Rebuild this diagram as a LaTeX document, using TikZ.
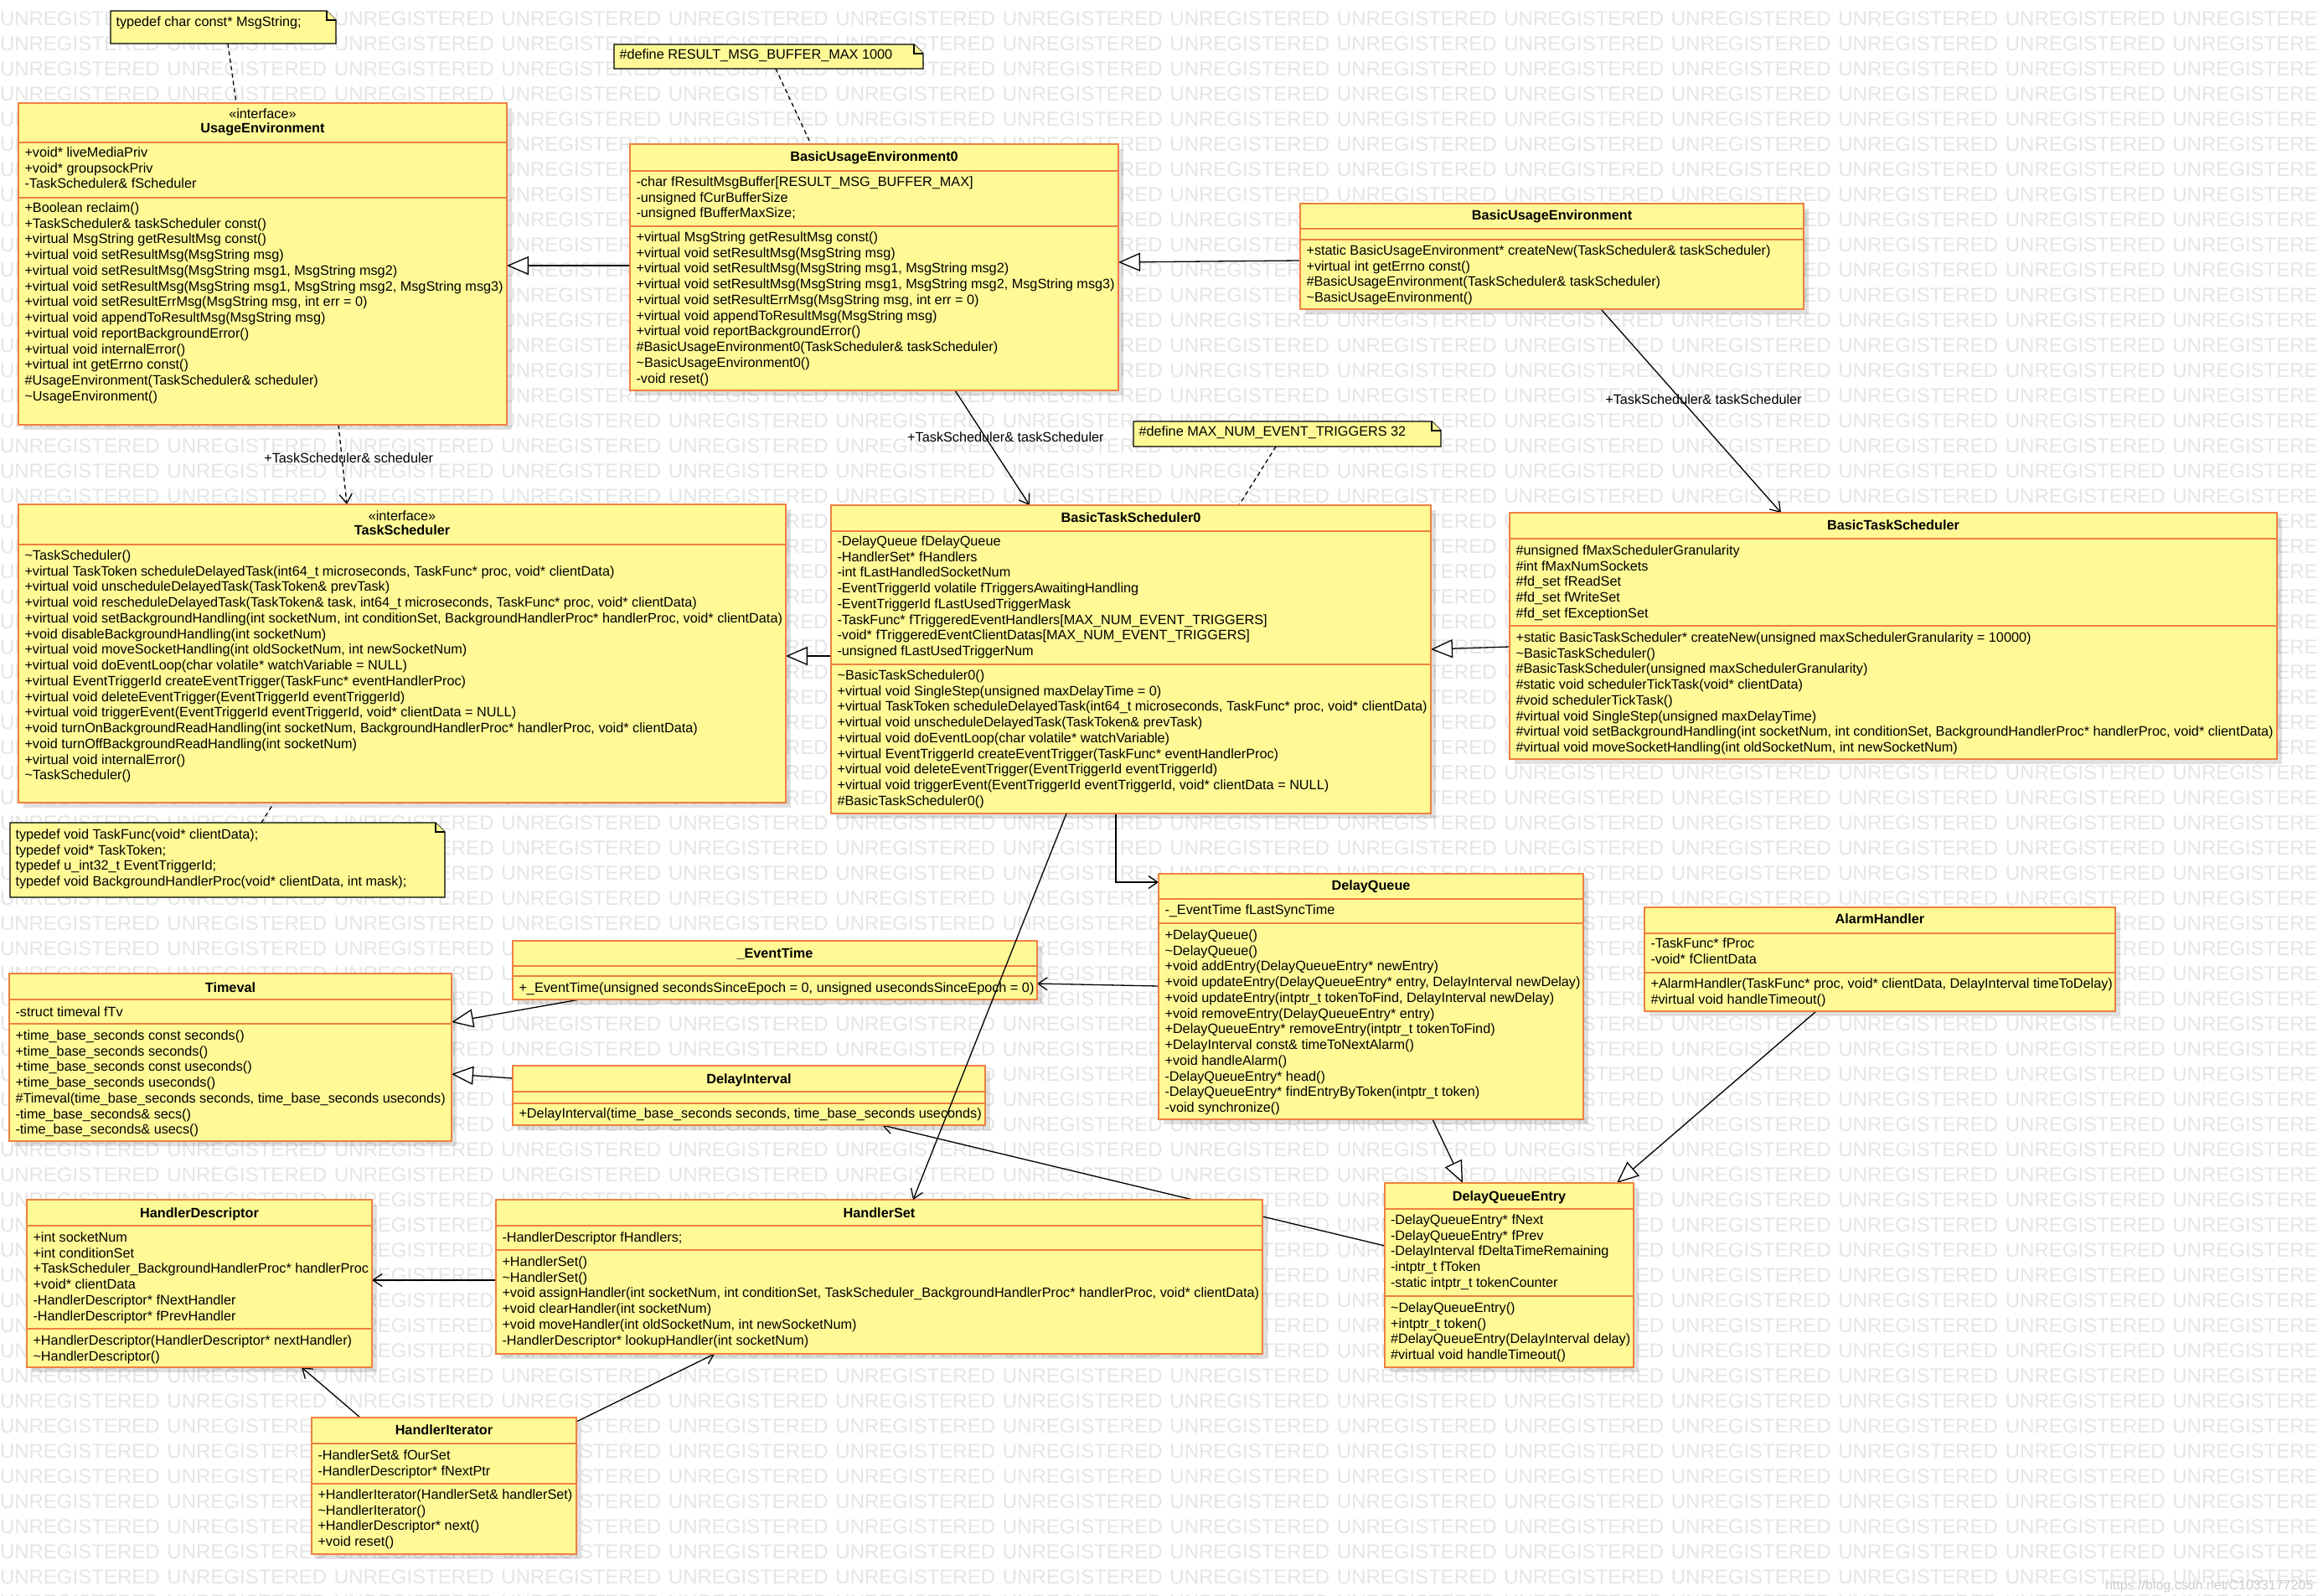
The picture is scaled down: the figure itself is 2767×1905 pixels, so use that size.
\documentclass[tikz,border=0pt]{standalone}
\usepackage{fontspec}
\setmainfont{Liberation Sans}
\usetikzlibrary{arrows.meta,calc,shadows}
\definecolor{clsfill}{RGB}{255,250,150}
\definecolor{clsline}{RGB}{240,128,64}
\definecolor{wmgray}{RGB}{229,229,229}
\definecolor{csdngray}{RGB}{205,205,205}
\pgfdeclarelayer{wm}
\pgfdeclarelayer{links}
\pgfsetlayers{wm,links,main}
\setlength{\lineskiplimit}{-100pt}
\newcommand\TLD{\textasciitilde}
\newcommand\wmw{\makebox[199.5pt][l]{UNREGISTERED}}
\newcommand\wmrow{\wmw\wmw\wmw\wmw\wmw\wmw\wmw\wmw\wmw\wmw\wmw\wmw\wmw\wmw}
\newcommand\umlclass[5]{\node[clsbox, anchor=north west, minimum width={#4-#2}, minimum height={#5-#3}] (#1) at (#2,#3) {};}
\newcommand\sepl[3]{\draw[sepline] (#1,#3) -- (#2,#3);}
\newcommand\umlnote[5]{%
 \node[anchor=north west, minimum width={#4-#2}, minimum height={#5-#3}] (#1) at (#2,#3) {};
 \filldraw[noteline] (#1.north west) -- ($(#1.north east)+(-11,0)$) -- ($(#1.north east)+(0,11)$) -- (#1.south east) -- (#1.south west) -- cycle;
 \filldraw[noteline] ($(#1.north east)+(-11,0)$) -- ($(#1.north east)+(-11,11)$) -- ($(#1.north east)+(0,11)$);}
\newcommand\clstitle[4]{\node[ttlfont, anchor=base] (#1) at (#2,{#3+5.5}) {#4};}
\newcommand\txtblock[4]{\node[mtxt, anchor=north west] (#1) at (#2,{#3-7.7}) {\strut #4};}
\begin{document}
\begin{tikzpicture}[x=1pt,y=-1pt,
  every node/.style={inner sep=0pt, outer sep=0pt},
  clsbox/.style={draw=clsline, line width=1.6pt, fill=clsfill,
     drop shadow={shadow xshift=6pt, shadow yshift=-6pt, fill=black, opacity=0.12}},
  sepline/.style={draw=clsline, line width=1.6pt},
  noteline/.style={draw=black, fill=clsfill, line width=1.4pt},
  ttlfont/.style={font=\fontsize{16.25}{18.75}\selectfont},
  mtxt/.style={align=left, font=\fontsize{16.25}{18.75}\selectfont},
  lbl/.style={font=\fontsize{16.25}{18.75}\selectfont},
  wmtext/.style={text=wmgray, font=\fontsize{24}{24}\selectfont},
  conn/.style={draw=black, line width=1.3pt},
  dashl/.style={conn, dash pattern=on 5pt off 4pt},
  openarr/.style={-{Straight Barb[length=11pt,width=15pt,line width=1.3pt]}},
  gen/.style={-{Triangle[length=26pt,width=22pt,fill=white,line width=1.3pt]}}
]
\useasboundingbox (0,0) rectangle (2767,1905);
\begin{pgfonlayer}{wm}
\fill[white] (0,0) rectangle (2767,1905);
\foreach \k in {0,...,63}{\node[wmtext, anchor=base west] (wm\k) at (0,{30.5+30*\k}) {\wmrow};}
\node[text=csdngray, font=\fontsize{16}{18}\selectfont, anchor=base west] (csdn) at (2513,1897.5) {https://blog.csdn.net/C1033177205};
\end{pgfonlayer}

% ---------- notes ----------
\umlnote{n1}{132}{13}{401}{52}
\txtblock{n1-t}{138.5}{26}{typedef char const* MsgString;}
\umlnote{n2}{733}{53}{1102}{82}
\txtblock{n2-t}{739.5}{65}{\#define RESULT\_MSG\_BUFFER\_MAX 1000}
\umlnote{n3}{12}{982}{531}{1071}
\txtblock{n3-t}{18.5}{996}{typedef void TaskFunc(void* clientData);\\typedef void* TaskToken;\\typedef u\_int32\_t EventTriggerId;\\typedef void BackgroundHandlerProc(void* clientData, int mask);}
\umlnote{n4}{1353}{503}{1720}{533}
\txtblock{n4-t}{1359.5}{515}{\#define MAX\_NUM\_EVENT\_TRIGGERS 32}

% ---------- UsageEnvironment ----------
\umlclass{ue}{22}{123}{605}{507}
\sepl{22}{605}{170}\sepl{22}{605}{236}
\clstitle{ue-s}{313.5}{136}{«interface»}
\clstitle{ue-n}{313.5}{153}{\textbf{UsageEnvironment}}
\txtblock{ue-a}{29.5}{182}{+void* liveMediaPriv\\+void* groupsockPriv\\-TaskScheduler\& fScheduler}
\txtblock{ue-m}{29.5}{248}{+Boolean reclaim()\\+TaskScheduler\& taskScheduler const()\\+virtual MsgString getResultMsg const()\\+virtual void setResultMsg(MsgString msg)\\+virtual void setResultMsg(MsgString msg1, MsgString msg2)\\+virtual void setResultMsg(MsgString msg1, MsgString msg2, MsgString msg3)\\+virtual void setResultErrMsg(MsgString msg, int err = 0)\\+virtual void appendToResultMsg(MsgString msg)\\+virtual void reportBackgroundError()\\+virtual void internalError()\\+virtual int getErrno const()\\\#UsageEnvironment(TaskScheduler\& scheduler)\\\TLD UsageEnvironment()}

% ---------- BasicUsageEnvironment0 ----------
\umlclass{bue0}{752}{172}{1335}{466}
\sepl{752}{1335}{204}\sepl{752}{1335}{270}
\clstitle{bue0-n}{1043.5}{187}{\textbf{BasicUsageEnvironment0}}
\txtblock{bue0-a}{759.5}{217}{-char fResultMsgBuffer[RESULT\_MSG\_BUFFER\_MAX]\\-unsigned fCurBufferSize\\-unsigned fBufferMaxSize;}
\txtblock{bue0-m}{759.5}{283}{+virtual MsgString getResultMsg const()\\+virtual void setResultMsg(MsgString msg)\\+virtual void setResultMsg(MsgString msg1, MsgString msg2)\\+virtual void setResultMsg(MsgString msg1, MsgString msg2, MsgString msg3)\\+virtual void setResultErrMsg(MsgString msg, int err = 0)\\+virtual void appendToResultMsg(MsgString msg)\\+virtual void reportBackgroundError()\\\#BasicUsageEnvironment0(TaskScheduler\& taskScheduler)\\\TLD BasicUsageEnvironment0()\\-void reset()}

% ---------- BasicUsageEnvironment ----------
\umlclass{bue}{1552}{243}{2153}{369}
\sepl{1552}{2153}{273}\sepl{1552}{2153}{286}
\clstitle{bue-n}{1852.5}{257}{\textbf{BasicUsageEnvironment}}
\txtblock{bue-m}{1559.5}{299}{+static BasicUsageEnvironment* createNew(TaskScheduler\& taskScheduler)\\+virtual int getErrno const()\\\#BasicUsageEnvironment(TaskScheduler\& taskScheduler)\\\TLD BasicUsageEnvironment()}

% ---------- TaskScheduler ----------
\umlclass{ts}{22}{602}{938}{958}
\sepl{22}{938}{650}
\clstitle{ts-s}{480}{616}{«interface»}
\clstitle{ts-n}{480}{633}{\textbf{TaskScheduler}}
\txtblock{ts-m}{29.5}{663}{\TLD TaskScheduler()\\+virtual TaskToken scheduleDelayedTask(int64\_t microseconds, TaskFunc* proc, void* clientData)\\+virtual void unscheduleDelayedTask(TaskToken\& prevTask)\\+virtual void rescheduleDelayedTask(TaskToken\& task, int64\_t microseconds, TaskFunc* proc, void* clientData)\\+virtual void setBackgroundHandling(int socketNum, int conditionSet, BackgroundHandlerProc* handlerProc, void* clientData)\\+void disableBackgroundHandling(int socketNum)\\+virtual void moveSocketHandling(int oldSocketNum, int newSocketNum)\\+virtual void doEventLoop(char volatile* watchVariable = NULL)\\+virtual EventTriggerId createEventTrigger(TaskFunc* eventHandlerProc)\\+virtual void deleteEventTrigger(EventTriggerId eventTriggerId)\\+virtual void triggerEvent(EventTriggerId eventTriggerId, void* clientData = NULL)\\+void turnOnBackgroundReadHandling(int socketNum, BackgroundHandlerProc* handlerProc, void* clientData)\\+void turnOffBackgroundReadHandling(int socketNum)\\+virtual void internalError()\\\TLD TaskScheduler()}

% ---------- BasicTaskScheduler0 ----------
\umlclass{bts0}{992}{603}{1708}{971}
\sepl{992}{1708}{634}\sepl{992}{1708}{793}
\clstitle{bts0-n}{1350}{618}{\textbf{BasicTaskScheduler0}}
\txtblock{bts0-a}{999.5}{646}{-DelayQueue fDelayQueue\\-HandlerSet* fHandlers\\-int fLastHandledSocketNum\\-EventTriggerId volatile fTriggersAwaitingHandling\\-EventTriggerId fLastUsedTriggerMask\\-TaskFunc* fTriggeredEventHandlers[MAX\_NUM\_EVENT\_TRIGGERS]\\-void* fTriggeredEventClientDatas[MAX\_NUM\_EVENT\_TRIGGERS]\\-unsigned fLastUsedTriggerNum}
\txtblock{bts0-m}{999.5}{806}{\TLD BasicTaskScheduler0()\\+virtual void SingleStep(unsigned maxDelayTime = 0)\\+virtual TaskToken scheduleDelayedTask(int64\_t microseconds, TaskFunc* proc, void* clientData)\\+virtual void unscheduleDelayedTask(TaskToken\& prevTask)\\+virtual void doEventLoop(char volatile* watchVariable)\\+virtual EventTriggerId createEventTrigger(TaskFunc* eventHandlerProc)\\+virtual void deleteEventTrigger(EventTriggerId eventTriggerId)\\+virtual void triggerEvent(EventTriggerId eventTriggerId, void* clientData = NULL)\\\#BasicTaskScheduler0()}

% ---------- BasicTaskScheduler ----------
\umlclass{bts}{1802}{612}{2718}{906}
\sepl{1802}{2718}{643}\sepl{1802}{2718}{747}
\clstitle{bts-n}{2260}{627}{\textbf{BasicTaskScheduler}}
\txtblock{bts-a}{1809.5}{657}{\#unsigned fMaxSchedulerGranularity\\\#int fMaxNumSockets\\\#fd\_set fReadSet\\\#fd\_set fWriteSet\\\#fd\_set fExceptionSet}
\txtblock{bts-m}{1809.5}{761}{+static BasicTaskScheduler* createNew(unsigned maxSchedulerGranularity = 10000)\\\TLD BasicTaskScheduler()\\\#BasicTaskScheduler(unsigned maxSchedulerGranularity)\\\#static void schedulerTickTask(void* clientData)\\\#void schedulerTickTask()\\\#virtual void SingleStep(unsigned maxDelayTime)\\\#virtual void setBackgroundHandling(int socketNum, int conditionSet, BackgroundHandlerProc* handlerProc, void* clientData)\\\#virtual void moveSocketHandling(int oldSocketNum, int newSocketNum)}

% ---------- DelayQueue ----------
\umlclass{dq}{1383}{1043}{1890}{1336}
\sepl{1383}{1890}{1073}\sepl{1383}{1890}{1102}
\clstitle{dq-n}{1636.5}{1057}{\textbf{DelayQueue}}
\txtblock{dq-a}{1390.5}{1086}{-\_EventTime fLastSyncTime}
\txtblock{dq-m}{1390.5}{1116}{+DelayQueue()\\\TLD DelayQueue()\\+void addEntry(DelayQueueEntry* newEntry)\\+void updateEntry(DelayQueueEntry* entry, DelayInterval newDelay)\\+void updateEntry(intptr\_t tokenToFind, DelayInterval newDelay)\\+void removeEntry(DelayQueueEntry* entry)\\+DelayQueueEntry* removeEntry(intptr\_t tokenToFind)\\+DelayInterval const\& timeToNextAlarm()\\+void handleAlarm()\\-DelayQueueEntry* head()\\-DelayQueueEntry* findEntryByToken(intptr\_t token)\\-void synchronize()}

% ---------- AlarmHandler ----------
\umlclass{ah}{1963}{1083}{2525}{1207}
\sepl{1963}{2525}{1114}\sepl{1963}{2525}{1161}
\clstitle{ah-n}{2244}{1097}{\textbf{AlarmHandler}}
\txtblock{ah-a}{1970.5}{1126}{-TaskFunc* fProc\\-void* fClientData}
\txtblock{ah-m}{1970.5}{1174}{+AlarmHandler(TaskFunc* proc, void* clientData, DelayInterval timeToDelay)\\\#virtual void handleTimeout()}

% ---------- DelayQueueEntry ----------
\umlclass{dqe}{1653}{1412}{1950}{1632}
\sepl{1653}{1950}{1443}\sepl{1653}{1950}{1547}
\clstitle{dqe-n}{1801.5}{1428}{\textbf{DelayQueueEntry}}
\txtblock{dqe-a}{1660}{1456}{-DelayQueueEntry* fNext\\-DelayQueueEntry* fPrev\\-DelayInterval fDeltaTimeRemaining\\-intptr\_t fToken\\-static intptr\_t tokenCounter}
\txtblock{dqe-m}{1660}{1561}{\TLD DelayQueueEntry()\\+intptr\_t token()\\\#DelayQueueEntry(DelayInterval delay)\\\#virtual void handleTimeout()}

% ---------- _EventTime ----------
\umlclass{et}{612}{1123}{1238}{1193}
\sepl{612}{1238}{1153}\sepl{612}{1238}{1165}
\clstitle{et-n}{925}{1138}{\textbf{\_EventTime}}
\txtblock{et-m}{619.5}{1179}{+\_EventTime(unsigned secondsSinceEpoch = 0, unsigned usecondsSinceEpoch = 0)}

% ---------- Timeval ----------
\umlclass{tv}{11}{1162}{539}{1362}
\sepl{11}{539}{1193}\sepl{11}{539}{1222}
\clstitle{tv-n}{275}{1179}{\textbf{Timeval}}
\txtblock{tv-a}{18.5}{1208}{-struct timeval fTv}
\txtblock{tv-m}{18.5}{1236}{+time\_base\_seconds const seconds()\\+time\_base\_seconds seconds()\\+time\_base\_seconds const useconds()\\+time\_base\_seconds useconds()\\\#Timeval(time\_base\_seconds seconds, time\_base\_seconds useconds)\\-time\_base\_seconds\& secs()\\-time\_base\_seconds\& usecs()}

% ---------- DelayInterval ----------
\umlclass{di}{612}{1272}{1176}{1343}
\sepl{612}{1176}{1303}\sepl{612}{1176}{1317}
\clstitle{di-n}{894}{1288}{\textbf{DelayInterval}}
\txtblock{di-m}{619.5}{1329}{+DelayInterval(time\_base\_seconds seconds, time\_base\_seconds useconds)}

% ---------- HandlerDescriptor ----------
\umlclass{hd}{32}{1432}{444}{1632}
\sepl{32}{444}{1463}\sepl{32}{444}{1586}
\clstitle{hd-n}{238}{1448}{\textbf{HandlerDescriptor}}
\txtblock{hd-a}{39.5}{1477}{+int socketNum\\+int conditionSet\\+TaskScheduler\_BackgroundHandlerProc* handlerProc\\+void* clientData\\-HandlerDescriptor* fNextHandler\\-HandlerDescriptor* fPrevHandler}
\txtblock{hd-m}{39.5}{1600}{+HandlerDescriptor(HandlerDescriptor* nextHandler)\\\TLD HandlerDescriptor()}

% ---------- HandlerSet ----------
\umlclass{hs}{592}{1432}{1507}{1616}
\sepl{592}{1507}{1463}\sepl{592}{1507}{1492}
\clstitle{hs-n}{1049.5}{1448}{\textbf{HandlerSet}}
\txtblock{hs-a}{599.5}{1477}{-HandlerDescriptor fHandlers;}
\txtblock{hs-m}{599.5}{1506}{+HandlerSet()\\\TLD HandlerSet()\\+void assignHandler(int socketNum, int conditionSet, TaskScheduler\_BackgroundHandlerProc* handlerProc, void* clientData)\\+void clearHandler(int socketNum)\\+void moveHandler(int oldSocketNum, int newSocketNum)\\-HandlerDescriptor* lookupHandler(int socketNum)}

% ---------- HandlerIterator ----------
\umlclass{hi}{372}{1692}{688}{1855}
\sepl{372}{688}{1723}\sepl{372}{688}{1771}
\clstitle{hi-n}{530}{1707}{\textbf{HandlerIterator}}
\txtblock{hi-a}{379.5}{1737}{-HandlerSet\& fOurSet\\-HandlerDescriptor* fNextPtr}
\txtblock{hi-m}{379.5}{1784}{+HandlerIterator(HandlerSet\& handlerSet)\\\TLD HandlerIterator()\\+HandlerDescriptor* next()\\+void reset()}

% ---------- connectors ----------
\begin{pgfonlayer}{links}
\draw[dashl] ($(n1.south west)+(140,0)$) -- ($(ue.north west)+(260,0)$);
\draw[dashl] ($(n2.south west)+(193,0)$) -- ($(bue0.north west)+(216,0)$);
\draw[dashl] ($(n3.north west)+(300,0)$) -- ($(ts.south west)+(305,0)$);
\draw[dashl] ($(n4.south west)+(170,0)$) -- ($(bts0.north west)+(487,0)$);
\draw[dashl, openarr] ($(ue.south west)+(382,0)$) -- node[lbl, pos=0.42, xshift=8pt] (lab-ue) {+TaskScheduler\& scheduler} ($(ts.north west)+(392,0)$);
\draw[conn, gen] ($(bue0.north west)+(0,145)$) -- ($(ue.north east)+(0,194)$);
\draw[conn, gen] ($(bue.north west)+(0,68)$) -- ($(bue0.north east)+(0,141)$);
\draw[conn, openarr] ($(bue.south west)+(359,0)$) -- node[lbl, pos=0.444, xshift=27pt] (lab-bue) {+TaskScheduler\& taskScheduler} ($(bts.north west)+(324,0)$);
\draw[conn, openarr] ($(bue0.south west)+(388,0)$) -- node[lbl, pos=0.409, xshift=24pt] (lab-bue0) {+TaskScheduler\& taskScheduler} ($(bts0.north west)+(237,0)$);
\draw[conn, gen] ($(bts0.north west)+(0,180)$) -- ($(ts.north east)+(0,181)$);
\draw[conn, gen] ($(bts.north west)+(0,160)$) -- ($(bts0.north east)+(0,172)$);
\draw[conn, openarr] ($(bts0.south west)+(340,0)$) |- ($(dq.north west)+(0,10)$);
\draw[conn, openarr] ($(dq.north west)+(0,134)$) -- ($(et.north east)+(0,51)$);
\draw[conn, gen] ($(et.south west)+(80,0)$) -- ($(tv.north east)+(0,58)$);
\draw[conn, gen] ($(di.north west)+(0,15)$) -- ($(tv.north east)+(0,120)$);
\draw[conn, openarr] ($(dqe.north west)+(0,75)$) -- ($(di.south west)+(441,0)$);
\draw[conn, gen] ($(dq.south west)+(327,0)$) -- ($(dqe.north west)+(93,0)$);
\draw[conn, gen] ($(ah.south west)+(205,0)$) -- ($(dqe.north west)+(277,0)$);
\draw[conn, openarr] ($(hs.north west)+(0,96)$) -- ($(hd.north east)+(0,96)$);
\draw[conn, openarr] ($(hi.north west)+(58,0)$) -- ($(hd.south west)+(328,0)$);
\draw[conn, openarr] ($(hi.north east)+(0,5)$) -- ($(hs.south west)+(261,0)$);
\end{pgfonlayer}
% this one is drawn over the _EventTime and DelayInterval boxes
\draw[conn, openarr] ($(bts0.south west)+(281,0)$) -- ($(hs.north west)+(498,0)$);
\end{tikzpicture}
\end{document}
